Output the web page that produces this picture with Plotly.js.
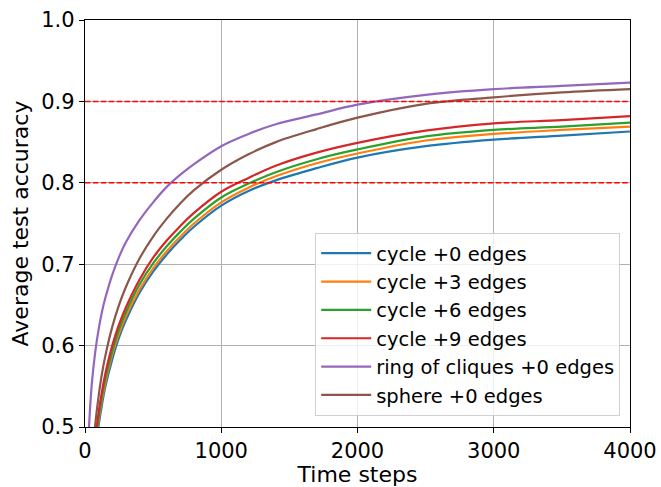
<!DOCTYPE html>
<html>
<head>
<meta charset="utf-8">
<script src="https://cdn.plot.ly/plotly-3.0.1.min.js"></script>
<style>html,body{margin:0;padding:0;background:#fff;}#chart{width:661px;height:487px;}</style>
</head>
<body>
<div id="chart"></div>
<script>
const steps = [50, 75, 100, 125, 150, 200, 250, 300, 400, 500, 600, 700, 800, 1000, 1200, 1400, 1700, 2000, 2500, 3000, 3500, 4000];
const ringSteps = [20, 25, 50, 75, 100, 125, 150, 200, 250, 300, 400, 500, 600, 700, 800, 1000, 1200, 1400, 1700, 2000, 2500, 3000, 3500, 4000];

const cycle0 = [0.421, 0.469, 0.502, 0.528, 0.550, 0.583, 0.610, 0.631, 0.665, 0.691, 0.712, 0.730, 0.746, 0.772, 0.790, 0.803, 0.818, 0.831, 0.845, 0.853, 0.858, 0.863];
const cycle3 = [0.428, 0.475, 0.508, 0.534, 0.555, 0.589, 0.615, 0.636, 0.669, 0.695, 0.716, 0.734, 0.750, 0.776, 0.794, 0.808, 0.824, 0.836, 0.852, 0.860, 0.865, 0.869];
const cycle6 = [0.431, 0.479, 0.512, 0.538, 0.560, 0.593, 0.620, 0.641, 0.675, 0.701, 0.722, 0.740, 0.756, 0.782, 0.799, 0.813, 0.829, 0.841, 0.857, 0.865, 0.869, 0.874];
const cycle9 = [0.436, 0.484, 0.518, 0.544, 0.566, 0.600, 0.626, 0.647, 0.681, 0.708, 0.729, 0.747, 0.763, 0.789, 0.806, 0.821, 0.837, 0.849, 0.864, 0.873, 0.877, 0.882];
const ringOfCliques = [0.464, 0.486, 0.553, 0.592, 0.620, 0.642, 0.659, 0.687, 0.709, 0.727, 0.754, 0.776, 0.795, 0.810, 0.823, 0.845, 0.860, 0.872, 0.884, 0.896, 0.908, 0.915, 0.919, 0.923];
const sphere = [0.454, 0.503, 0.538, 0.566, 0.588, 0.623, 0.650, 0.672, 0.707, 0.734, 0.756, 0.775, 0.791, 0.816, 0.835, 0.850, 0.866, 0.880, 0.897, 0.905, 0.911, 0.915];

const seriesNames = ["cycle +0 edges", "cycle +3 edges", "cycle +6 edges", "cycle +9 edges", "ring of cliques +0 edges", "sphere +0 edges"];
const seriesColors = ["#1f77b4", "#ff7f0e", "#2ca02c", "#d62728", "#9467bd", "#8c564b"];
const seriesX = [steps, steps, steps, steps, ringSteps, steps];
const seriesY = [cycle0, cycle3, cycle6, cycle9, ringOfCliques, sphere];
const thresholds = [0.8, 0.9];
const xTicks = [0, 1000, 2000, 3000, 4000];
const yTicks = [0.5, 0.6, 0.7, 0.8, 0.9, 1.0];

const traces = seriesNames.map((n, i) => ({
  x: seriesX[i], y: seriesY[i], name: n, type: 'scatter', mode: 'lines',
  line: {color: seriesColors[i], width: 2.2, shape: 'spline', smoothing: 1}
}));

const font = {family: 'DejaVu Sans, sans-serif', color: '#000'};
const layout = {
  width: 661, height: 487,
  margin: {l: 85, r: 31, t: 20, b: 60},
  paper_bgcolor: '#fff', plot_bgcolor: '#fff',
  font: Object.assign({size: 16}, font),
  showlegend: true,
  legend: {
    x: 0.982, y: 0.027, xanchor: 'right', yanchor: 'bottom',
    bgcolor: 'rgba(255,255,255,0.8)', bordercolor: '#d0d0d0', borderwidth: 1,
    font: Object.assign({size: 19.5}, font), tracegroupgap: 0, itemwidth: 50
  },
  xaxis: {
    range: [0, 4000], tickvals: xTicks, ticktext: xTicks.map(String),
    showgrid: true, gridcolor: '#b0b0b0', gridwidth: 1,
    showline: true, linecolor: '#000', linewidth: 1.2, mirror: true,
    ticks: 'outside', ticklen: 5, tickcolor: '#000', zeroline: false,
    tickfont: Object.assign({size: 21}, font),
    title: {text: 'Time steps', font: Object.assign({size: 22}, font), standoff: 2}
  },
  yaxis: {
    range: [0.5, 1.0], tickvals: yTicks, ticktext: yTicks.map(v => v.toFixed(1)),
    showgrid: true, gridcolor: '#b0b0b0', gridwidth: 1,
    showline: true, linecolor: '#000', linewidth: 1.2, mirror: true,
    ticks: 'outside', ticklen: 5, tickcolor: '#000', zeroline: false,
    tickfont: Object.assign({size: 21}, font),
    title: {text: 'Average test accuracy', font: Object.assign({size: 22}, font), standoff: 6}
  },
  shapes: thresholds.map(t => ({
    type: 'line', xref: 'paper', x0: 0, x1: 1, yref: 'y', y0: t, y1: t,
    line: {color: 'red', width: 1.5, dash: '5.5px,2.4px'}, layer: 'above'
  }))
};

Plotly.newPlot('chart', traces, layout, {displayModeBar: false, staticPlot: true});
</script>
</body>
</html>
